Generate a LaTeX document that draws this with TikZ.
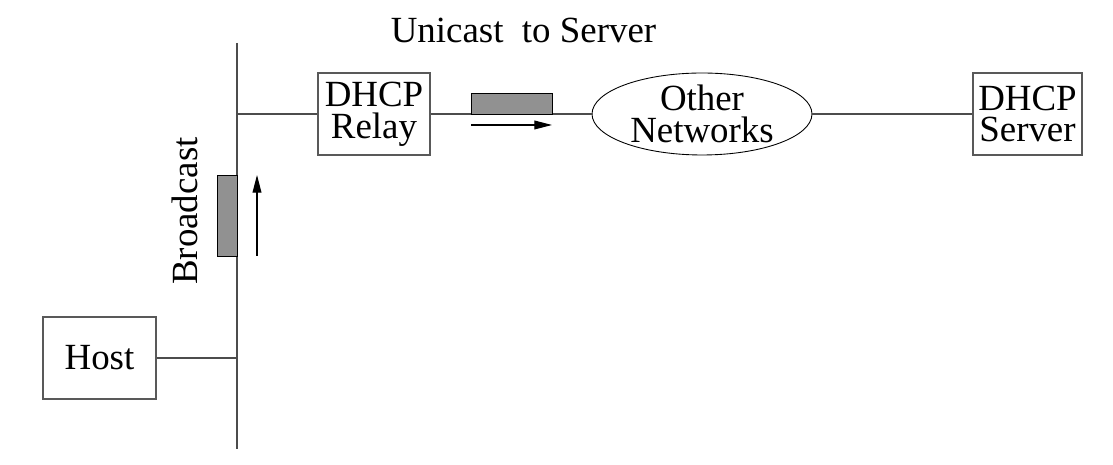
\documentclass[tikz,border=0pt]{standalone}
\usepackage{fontspec}
\setmainfont{Liberation Serif}
\usetikzlibrary{shapes.geometric,arrows.meta}
\begin{document}
\begin{tikzpicture}[x=0.02cm,y=-0.02cm,
  wire/.style={draw=black!70,line width=0.6pt},
  box/.style={draw=black!65,line width=0.6pt,rectangle,inner sep=0pt,align=center,
    font=\fontsize{21}{18}\selectfont},
  cloud/.style={draw=black,line width=0.5pt,ellipse,inner sep=0pt,align=center,
    minimum width=4.4cm,minimum height=1.64cm,font=\fontsize{21}{18}\selectfont},
  packet/.style={draw=black,line width=0.5pt,fill=black!43},
  flow/.style={draw=black,line width=0.6pt,-{Triangle[length=10pt,width=5pt]}},
  lbl/.style={inner sep=0pt,font=\fontsize{21}{18}\selectfont}]
\useasboundingbox (0,0) rectangle (1113,465);
% backbone
\coordinate (top) at (237,43);
\coordinate (bot) at (237,449);
\coordinate (j1) at (237,114);
\coordinate (j2) at (237,358);
\draw[wire] (top) -- (bot);
% nodes
\node[box,minimum width=2.24cm,minimum height=1.64cm] (relay) at (374,114) {DHCP\\Relay};
\node[cloud] (net) at (702,114) {Other\\Networks};
\node[box,minimum width=2.18cm,minimum height=1.64cm] (server) at (1027.5,114) {DHCP\\Server};
\node[box,minimum width=2.26cm,minimum height=1.64cm] (host) at (99.5,358) {Host};
% links
\draw[wire] (j1) -- (relay.west);
\draw[wire] (relay.east) -- (net.west);
\draw[wire] (net.east) -- (server.west);
\draw[wire] (host.east) -- (j2);
% packets
\draw[packet] (471,93) rectangle (552,114);
\draw[packet] (217,175) rectangle (237,256);
\coordinate (ua) at (471,125);
\coordinate (ub) at (552,125);
\coordinate (ba) at (257,256);
\coordinate (bb) at (257,175);
\draw[flow] (ua) -- (ub);
\draw[flow] (ba) -- (bb);
% labels
\node[lbl,anchor=base] (uni) at (523.5,43) {Unicast\ \ to Server};
\node[lbl,anchor=base,rotate=90] (bc) at (197,211) {Broadcast};
\end{tikzpicture}
\end{document}
